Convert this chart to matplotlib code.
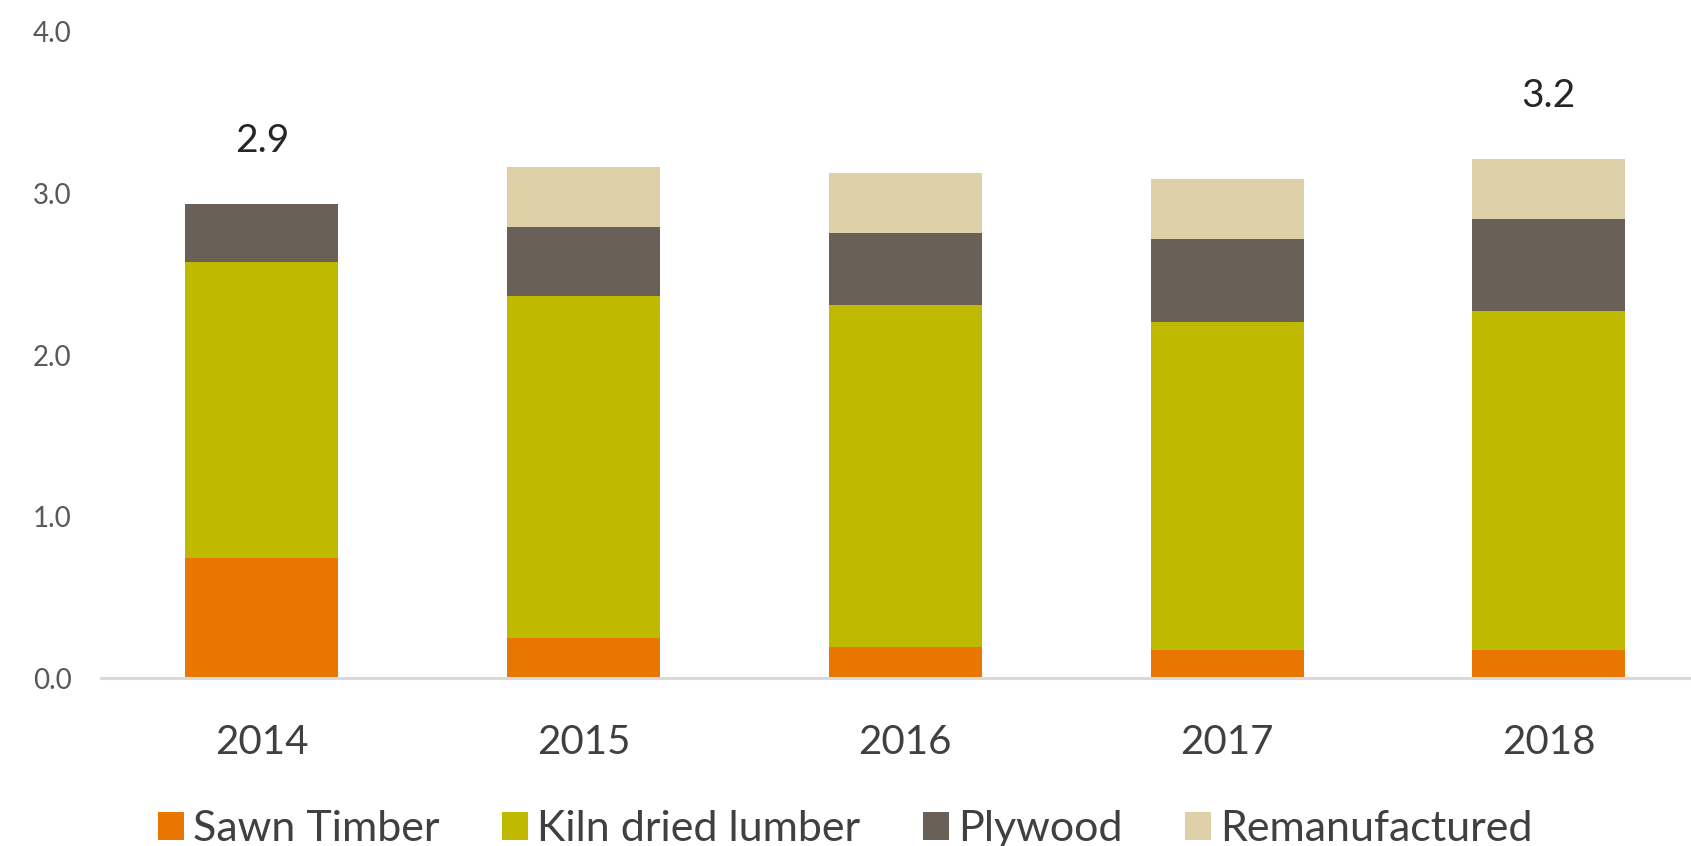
import matplotlib.pyplot as plt
import numpy as np

plt.rcParams['font.family'] = ['Lato', 'DejaVu Sans']

# Export volumes by product type (stacked)
years = ['2014', '2015', '2016', '2017', '2018']
sawn_timber = [0.745, 0.248, 0.192, 0.173, 0.173]
kiln_dried = [1.831, 2.117, 2.118, 2.031, 2.099]
plywood = [0.359, 0.428, 0.445, 0.514, 0.570]
remanufactured = [0.0, 0.371, 0.372, 0.372, 0.372]
labelled_years = ['2014', '2018']

series = [
    ('Sawn Timber', sawn_timber, '#E97600'),
    ('Kiln dried lumber', kiln_dried, '#BFB900'),
    ('Plywood', plywood, '#696158'),
    ('Remanufactured', remanufactured, '#DDD0A8'),
]

fig = plt.figure(figsize=(16.91, 8.46), dpi=100)
ax = fig.add_axes([101 / 1691, 168 / 846, 1590 / 1691, 646 / 846])

x = np.arange(len(years))
width = 0.476
bottom = np.zeros(len(years))
for name, vals, color in series:
    ax.bar(x, vals, width, bottom=bottom, color=color, label=name)
    bottom += np.array(vals)

# total labels above the first and last bars
for i, yr in enumerate(years):
    if yr in labelled_years:
        ax.annotate(f'{bottom[i]:.1f}', (x[i], bottom[i]), xytext=(0, 45),
                    textcoords='offset points', ha='center', va='center',
                    fontsize=28, color='#262626')

ax.set_xlim(-0.5, -0.5 + 1590 / 321.75)
ax.set_ylim(0, 4.0)
ax.set_yticks(np.arange(0, 4.01, 1.0))
ax.set_yticklabels([f'{v:.1f}' for v in np.arange(0, 4.01, 1.0)])
ax.set_xticks(x)
ax.set_xticklabels(years)

for side in ['top', 'right', 'left']:
    ax.spines[side].set_visible(False)
ax.spines['bottom'].set_color('#D9D9D9')
ax.spines['bottom'].set_linewidth(2.2)

ax.tick_params(axis='y', length=0, pad=21, labelsize=20, labelcolor='#595959')
ax.tick_params(axis='x', length=0, pad=33, labelsize=29, labelcolor='#404040')

ax.legend(loc='center', bbox_to_anchor=(0.5, 0.02), bbox_transform=fig.transFigure,
          ncol=4, frameon=False, fontsize=31, handlelength=0.6, handleheight=0.6,
          handletextpad=0.22, columnspacing=1.45, labelcolor='#404040',
          borderaxespad=0, borderpad=0)

fig.savefig('out.png', dpi=100)
